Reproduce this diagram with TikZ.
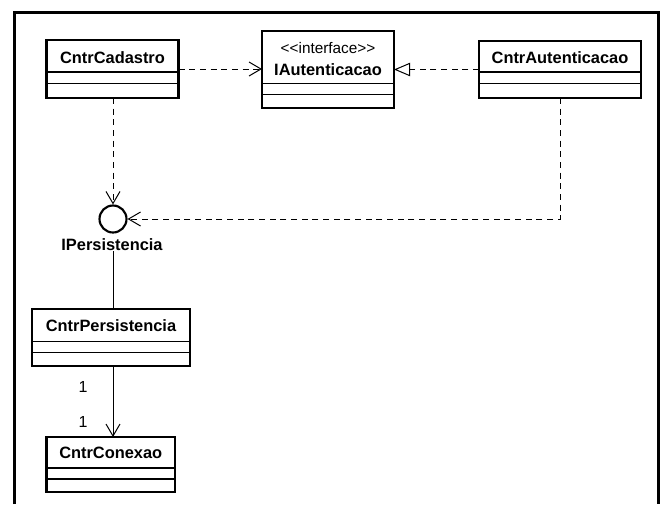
\documentclass[tikz,border=0pt]{standalone}
\usepackage{fontspec}
\setmainfont{Liberation Sans}
\usetikzlibrary{arrows.meta,calc}
\begin{document}
\begin{tikzpicture}[x=0.75pt,y=-0.75pt,
 cls/.style={draw, line width=1.6pt, inner sep=0pt, outer sep=0pt, fill=white},
 ttl/.style={font=\fontsize{12.3}{14}\selectfont\bfseries, inner sep=0pt},
 stereo/.style={font=\fontsize{11.5}{14}\selectfont, inner sep=0pt},
 num/.style={font=\fontsize{12}{14}\selectfont, inner sep=0pt},
 div/.style={line width=0.8pt},
 dep/.style={dash pattern=on 4.5pt off 3.5pt, line width=0.75pt},
 asc/.style={line width=0.75pt},
 vee/.style={-{Straight Barb[length=9pt,width=10.5pt,line width=0.75pt]}},
 real/.style={-{Triangle[open,length=12pt,width=10pt,line width=0.75pt]}},
]
\useasboundingbox (0,0) rectangle (663,504);
\draw[line width=2.25pt] (14,504) -- (14,12.5) -- (658.5,12.5) -- (658.5,504);

% classes
\node[cls, minimum width=99pt, minimum height=43.5pt] (cad) at (112.5,69) {};
\node[ttl] (cadt) at (112.5,57.5) {CntrCadastro};
\draw[div] (cad.west |- 0,72) -- (cad.east |- 0,72);
\draw[div] (cad.west |- 0,83.5) -- (cad.east |- 0,83.5);

\node[cls, minimum width=99pt, minimum height=57.75pt] (iaut) at (328,69.5) {};
\node[stereo] (iauts) at (328,48.5) {<{}<interface>{}>};
\node[ttl] (iautt) at (328,70) {IAutenticacao};
\draw[div] (iaut.west |- 0,83.5) -- (iaut.east |- 0,83.5);
\draw[div] (iaut.west |- 0,94.5) -- (iaut.east |- 0,94.5);

\node[cls, minimum width=121.5pt, minimum height=42.75pt] (caut) at (560,69.5) {};
\node[ttl] (cautt) at (560,58) {CntrAutenticacao};
\draw[div] (caut.west |- 0,72) -- (caut.east |- 0,72);
\draw[div] (caut.west |- 0,83.5) -- (caut.east |- 0,83.5);

\node[cls, minimum width=118.5pt, minimum height=42.75pt] (cper) at (111,337.5) {};
\node[ttl] (cpert) at (111,326) {CntrPersistencia};
\draw[div] (cper.west |- 0,341.5) -- (cper.east |- 0,341.5);
\draw[div] (cper.west |- 0,352.5) -- (cper.east |- 0,352.5);

\node[cls, minimum width=96.4pt, minimum height=41.25pt] (ccon) at (110.75,464.5) {};
\node[ttl] (ccont) at (110.75,453) {CntrConexao};
\draw[div] (ccon.west |- 0,468) -- (ccon.east |- 0,468);
\draw[div] (ccon.west |- 0,479) -- (ccon.east |- 0,479);

% interface lollipop
\node[circle, draw, line width=1.6pt, minimum size=20.25pt, inner sep=0pt] (ipers) at (113,219) {};
\node[ttl] (iperslbl) at (112,245) {IPersistencia};

% connectors
\draw[dep,vee] (cad.east) -- (cad.east -| iaut.west);
\draw[dep,real] (caut.west) -- (caut.west -| iaut.east);
\draw[dep,vee] (ipers |- cad.south) -- (ipers.north);
\draw[dep,vee] (caut.south) |- (ipers.east);
\draw[asc] (iperslbl.south -| ipers) -- (ipers |- cper.north);
\draw[asc,vee] (ipers |- cper.south) -- (ipers |- ccon.north);

\node[num] (m1) at (83,387) {1};
\node[num] (m2) at (83,422) {1};
\end{tikzpicture}
\end{document}
